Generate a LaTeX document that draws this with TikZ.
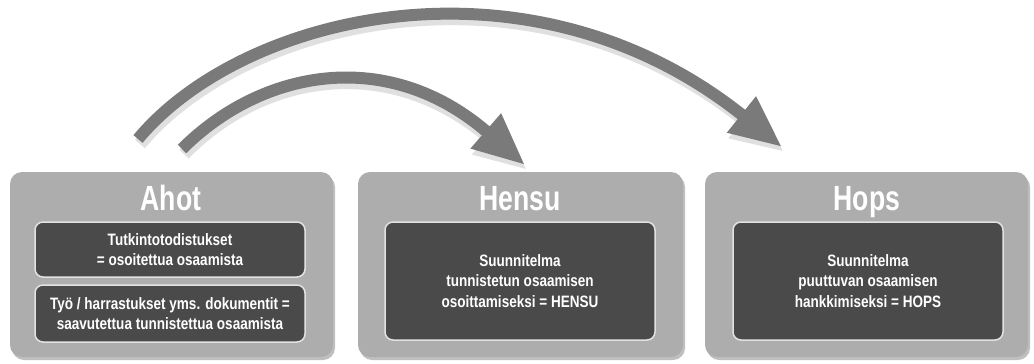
\documentclass[tikz,border=0pt]{standalone}
\usepackage{fontspec}
\setmainfont{Liberation Sans}[FakeStretch=0.82]
\newfontfamily\titlefont{Liberation Sans}[FakeStretch=0.76]
\usetikzlibrary{arrows.meta,shadows}
\definecolor{outerbox}{HTML}{ADADAD}
\definecolor{innerbox}{HTML}{4A4A4A}
\definecolor{innerline}{HTML}{E2E2E2}
\definecolor{arrowgray}{HTML}{7A7A7A}
\tikzset{
  outerpanel/.style={rectangle, rounded corners=12pt, fill=outerbox, minimum height=185pt,
    drop shadow={shadow xshift=2pt, shadow yshift=-3pt, opacity=0.25, fill=black}},
  innerpanel/.style={rectangle, rounded corners=8pt, fill=innerbox, draw=innerline, line width=1.5pt,
    minimum width=270pt, text=white, align=center, font=\fontsize{16.5}{20.5}\selectfont\bfseries},
  paneltitle/.style={text=white, anchor=base, font=\titlefont\fontsize{35}{38}\selectfont\bfseries},
  bigarrow/.style={draw=arrowgray, line width=12pt, -{Triangle[length=52pt,width=43pt]}},
  arrowshadow/.style={draw=black, opacity=0.12, line width=13pt, -{Triangle[length=52pt,width=44pt]}}
}
\begin{document}
\begin{tikzpicture}[x=1pt,y=-1pt]
\useasboundingbox (0,0) rectangle (1034,364);
% panels
\node[outerpanel, minimum width=323pt] (ahot) at (171.5,264.5) {};
\node[outerpanel, minimum width=325pt] (hensu) at (520.5,264.5) {};
\node[outerpanel, minimum width=323pt] (hops) at (866.5,264.5) {};
% titles
\node[paneltitle] (ahott) at (171,210) {Ahot};
\node[paneltitle] (hensut) at (520,210) {Hensu};
\node[paneltitle] (hopst) at (867,210) {Hops};
% inner boxes
\node[innerpanel, minimum height=55pt] (ahot1) at (170,249.5) {Tutkintotodistukset\\= osoitettua osaamista};
\node[innerpanel, minimum height=57pt] (ahot2) at (170,313.5) {Työ / harrastukset yms. dokumentit =\\saavutettua tunnistettua osaamista};
\node[innerpanel, minimum height=118pt] (hensui) at (520,281) {Suunnitelma\\tunnistetun osaamisen\\osoittamiseksi = HENSU};
\node[innerpanel, minimum height=118pt] (hopsi) at (868,281) {Suunnitelma\\puuttuvan osaamisen\\hankkimiseksi = HOPS};
% arrow end points
\coordinate (outerstart) at (138,139);
\coordinate (outertip) at (782,147);
\coordinate (innerstart) at (182,149);
\coordinate (innertip) at (525,165);
% shadows of arrows
\draw[arrowshadow] ([shift={(2,5)}]outerstart) .. controls (245,18) and (532,-50) .. ([shift={(2,5)}]outertip);
\draw[arrowshadow] ([shift={(2,5)}]innerstart) .. controls (262,74) and (388,51) .. ([shift={(2,5)}]innertip);
% arrows
\draw[bigarrow] (outerstart) .. controls (243,13) and (530,-55) .. (outertip);
\draw[bigarrow] (innerstart) .. controls (262,69) and (388,46) .. (innertip);
\end{tikzpicture}
\end{document}
